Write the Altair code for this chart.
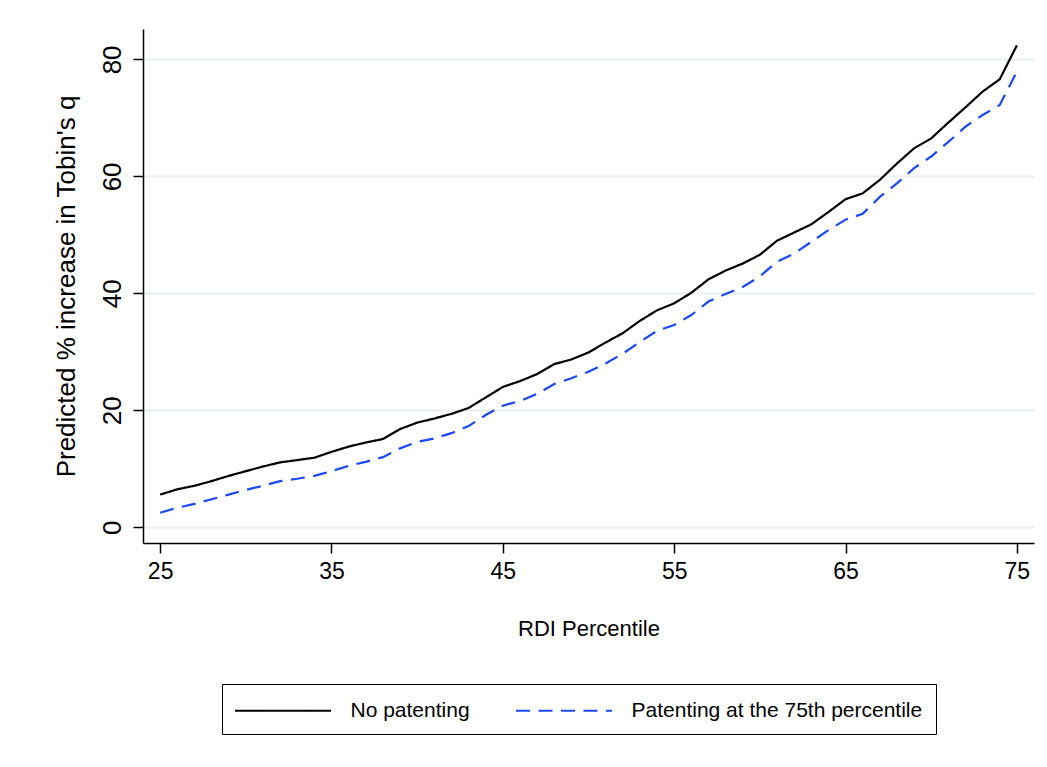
import altair as alt
import pandas as pd

percentile = list(range(25, 76))
no_patenting = [5.6, 6.5, 7.1, 7.9, 8.8, 9.6, 10.4, 11.1, 11.5, 11.9,
                12.9, 13.8, 14.5, 15.1, 16.8, 17.9, 18.6, 19.4, 20.4, 22.2,
                24.0, 25.0, 26.2, 27.9, 28.7, 29.9, 31.6, 33.2, 35.3, 37.1,
                38.3, 40.1, 42.4, 43.9, 45.1, 46.6, 49.0, 50.4, 51.8, 53.9,
                56.1, 57.1, 59.4, 62.2, 64.8, 66.5, 69.2, 71.8, 74.5, 76.6,
                82.4]
patenting_75 = [2.5, 3.35, 4.0, 4.8, 5.6, 6.4, 7.1, 7.9, 8.3, 8.8,
                9.6, 10.5, 11.2, 12.0, 13.5, 14.6, 15.2, 16.1, 17.3, 19.2,
                20.8, 21.6, 22.8, 24.5, 25.5, 26.6, 28.0, 29.7, 31.7, 33.6,
                34.6, 36.3, 38.6, 39.9, 41.1, 42.9, 45.4, 46.8, 48.8, 50.8,
                52.6, 53.6, 56.5, 58.8, 61.4, 63.4, 65.9, 68.5, 70.5, 72.2,
                77.9]
series_names = ["No patenting", "Patenting at the 75th percentile"]
x_ticks = [25, 35, 45, 55, 65, 75]
y_ticks = [0, 20, 40, 60, 80]

df = pd.concat([
    pd.DataFrame({"pct": percentile, "val": no_patenting, "series": series_names[0]}),
    pd.DataFrame({"pct": percentile, "val": patenting_75, "series": series_names[1]}),
])

FONT = "Liberation Sans, Arial, Helvetica"

chart = alt.Chart(df).mark_line(strokeWidth=2.2).encode(
    x=alt.X("pct:Q",
            scale=alt.Scale(domain=[24.0, 76.0], nice=False, zero=False),
            axis=alt.Axis(values=x_ticks, title="RDI Percentile", grid=False,
                          domainColor="black", domainWidth=1.5,
                          tickColor="black", tickWidth=1.5, tickSize=10,
                          labelFont=FONT, labelFontSize=23, labelColor="black",
                          labelPadding=7, labelFlush=False,
                          titleFont=FONT, titleFontSize=22, titleFontWeight="normal",
                          titleColor="black", titleX=445.5, titleY=85,
                          titleAlign="center", titleBaseline="middle")),
    y=alt.Y("val:Q",
            scale=alt.Scale(domain=[-2.68, 85.2], nice=False, zero=False),
            axis=alt.Axis(values=y_ticks, title="Predicted % increase in Tobin's q",
                          grid=True, gridColor="#e7efef", gridWidth=2,
                          domainColor="black", domainWidth=1.5,
                          tickColor="black", tickWidth=1.5, tickSize=10,
                          labelFont=FONT, labelFontSize=26, labelColor="black",
                          labelAngle=-90, labelAlign="center", labelBaseline="bottom",
                          labelPadding=8, labelFlush=False,
                          titleFont=FONT, titleFontSize=26, titleFontWeight="normal",
                          titleColor="black", titleAngle=-90, titleX=-77, titleY=257,
                          titleAlign="center", titleBaseline="middle")),
    color=alt.Color("series:N",
                    scale=alt.Scale(domain=series_names, range=["black", "#1b48ff"]),
                    legend=alt.Legend(title=None, orient="none", legendX=79, legendY=655,
                                      direction="horizontal", strokeColor="black",
                                      fillColor="white", padding=13,
                                      symbolType="M-4,0H4", symbolSize=576,
                                      symbolStrokeWidth=2.2, symbolOffset=34.5,
                                      labelFont=FONT, labelFontSize=21,
                                      labelColor="black", labelOffset=54,
                                      columnPadding=41, labelLimit=500)),
    strokeDash=alt.StrokeDash("series:N",
                              scale=alt.Scale(domain=series_names, range=[[1, 0], [14, 8.5]]),
                              legend=None),
).properties(
    width=891, height=514,
    autosize=alt.AutoSizeParams(type="none"),
    padding={"left": 135, "top": 21, "right": 5, "bottom": 215},
    background="white",
).configure_view(stroke=None)

chart.save("out.html", embed_options={"renderer": "svg", "actions": False})
